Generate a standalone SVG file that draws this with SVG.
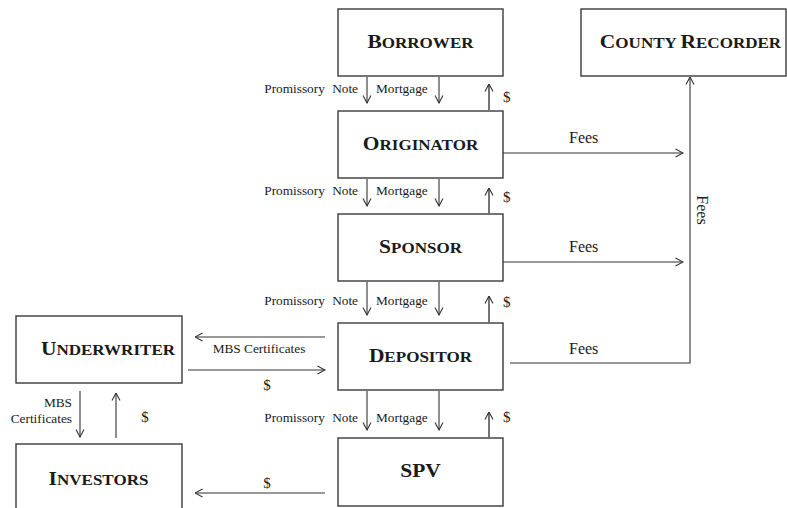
<svg xmlns="http://www.w3.org/2000/svg" width="787" height="508" viewBox="0 0 787 508">
<style>
.box{fill:#fff;stroke:#3a3a3a;stroke-width:1.4}
.t{font-family:"Liberation Serif","Times New Roman",serif;font-weight:bold;fill:#1a1a1a;text-anchor:middle}
.big{font-size:19.5px}
.sm{font-size:15.5px}
.lb{font-family:"Liberation Serif","Times New Roman",serif;font-size:13.3px;fill:#1a1a1a}
.dl{font-family:"Liberation Serif","Times New Roman",serif;font-size:15px;fill:#1a1a1a}
.fe{font-family:"Liberation Serif","Times New Roman",serif;font-size:16px;fill:#1a1a1a}
.ln{fill:none;stroke:#333;stroke-width:1.1;marker-end:url(#ah)}
.up{fill:none;stroke:#666;stroke-width:1.8;marker-end:url(#ah)}
</style>
<defs>
<marker id="ah" viewBox="0 0 10 10" refX="9.5" refY="5" markerWidth="10" markerHeight="10" markerUnits="userSpaceOnUse" orient="auto">
<path d="M2,1 L9.5,5 L2,9" fill="none" stroke="#333" stroke-width="1.1"/>
</marker>
</defs>
<g id="borrower"><rect class="box" x="338" y="9" width="165" height="67"/>
<text class="t" transform="translate(420.5,48) scale(1.1,1)"><tspan class="big">B</tspan><tspan class="sm">ORROWER</tspan></text></g>
<g id="county-recorder"><rect class="box" x="581" y="9" width="205" height="67"/>
<text class="t" transform="translate(690.5,48) scale(1.1,1)"><tspan class="big">C</tspan><tspan class="sm">OUNTY </tspan><tspan class="big">R</tspan><tspan class="sm">ECORDER</tspan></text></g>
<g id="originator"><rect class="box" x="338" y="111" width="165" height="67"/>
<text class="t" transform="translate(420.5,150) scale(1.1,1)"><tspan class="big">O</tspan><tspan class="sm">RIGINATOR</tspan></text></g>
<g id="sponsor"><rect class="box" x="338" y="214" width="165" height="67"/>
<text class="t" transform="translate(420.5,253) scale(1.1,1)"><tspan class="big">S</tspan><tspan class="sm">PONSOR</tspan></text></g>
<g id="depositor"><rect class="box" x="338" y="323" width="165" height="67"/>
<text class="t" transform="translate(420.5,362) scale(1.1,1)"><tspan class="big">D</tspan><tspan class="sm">EPOSITOR</tspan></text></g>
<g id="spv"><rect class="box" x="338" y="438" width="165" height="68"/>
<text class="t big" transform="translate(420.5,477) scale(1.1,1)">SPV</text></g>
<g id="underwriter"><rect class="box" x="16" y="316" width="166" height="67"/>
<text class="t" transform="translate(108,355) scale(1.1,1)"><tspan class="big">U</tspan><tspan class="sm">NDERWRITER</tspan></text></g>
<g id="investors"><rect class="box" x="16" y="444" width="166" height="66"/>
<text class="t" transform="translate(98.5,485) scale(1.1,1)"><tspan class="big">I</tspan><tspan class="sm">NVESTORS</tspan></text></g>
<g id="connectors">
<path class="ln" d="M367,77 V103"/><path class="ln" d="M439,77 V103"/><path class="up" d="M489,110 V84"/>
<path class="ln" d="M367,179 V206"/><path class="ln" d="M439,179 V206"/><path class="up" d="M489,214 V188"/>
<path class="ln" d="M367,282 V315"/><path class="ln" d="M439,282 V315"/><path class="up" d="M489,323 V296"/>
<path class="ln" d="M367,391 V430"/><path class="ln" d="M439,391 V430"/><path class="up" d="M489,438 V412"/>
<path class="ln" d="M503,153 H683"/>
<path class="ln" d="M503,262 H683"/>
<path class="ln" d="M510,363 H690 V77"/>
<path class="ln" d="M325,337 H195"/>
<path class="ln" d="M188,370 H325"/>
<path class="ln" d="M80,391 V437"/>
<path class="ln" d="M116,438 V393"/>
<path class="ln" d="M325,493 H195"/>
</g>
<g id="labels">
<text class="lb" x="358" y="93" text-anchor="end" word-spacing="4">Promissory Note</text>
<text class="lb" x="376" y="93">Mortgage</text>
<text class="dl" x="503" y="102">$</text>
<text class="lb" x="358" y="195" text-anchor="end" word-spacing="4">Promissory Note</text>
<text class="lb" x="376" y="195">Mortgage</text>
<text class="dl" x="503" y="202">$</text>
<text class="lb" x="358" y="305" text-anchor="end" word-spacing="4">Promissory Note</text>
<text class="lb" x="376" y="305">Mortgage</text>
<text class="dl" x="503" y="307">$</text>
<text class="lb" x="358" y="422" text-anchor="end" word-spacing="4">Promissory Note</text>
<text class="lb" x="376" y="422">Mortgage</text>
<text class="dl" x="503" y="422">$</text>
<text class="fe" x="569" y="143">Fees</text>
<text class="fe" x="569" y="252">Fees</text>
<text class="fe" x="569" y="354">Fees</text>
<text class="fe" transform="translate(697,210) rotate(90)" text-anchor="middle">Fees</text>
<text class="lb" x="259" y="353" text-anchor="middle" font-size="13.5">MBS Certificates</text>
<text class="dl" x="267" y="390" text-anchor="middle">$</text>
<text class="lb" x="72" y="407" text-anchor="end">MBS</text>
<text class="lb" x="72" y="423" text-anchor="end">Certificates</text>
<text class="dl" x="145" y="422" text-anchor="middle">$</text>
<text class="dl" x="267" y="488" text-anchor="middle">$</text>
</g>
</svg>
